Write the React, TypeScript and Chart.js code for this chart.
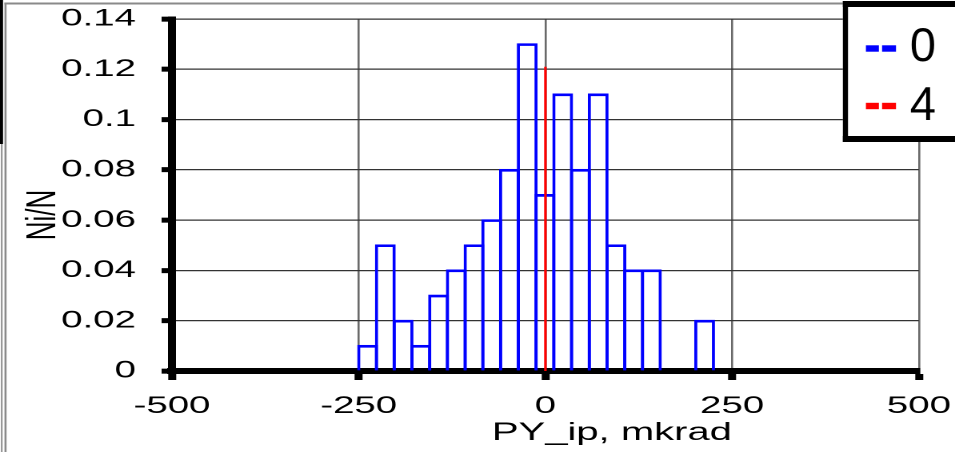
import React, { useEffect, useRef } from 'react';
import { Chart, registerables } from 'chart.js';

Chart.register(...registerables);

// ---- data ----
const binCenters = [
  -238.125, -214.375, -190.625, -166.875, -143.125, -119.375, -95.625, -71.875, -48.125, -24.375,
  -0.625, 23.125, 46.875, 70.625, 94.375, 118.125, 141.875, 165.625, 189.375, 213.125,
];
const series0 = [
  0.01, 0.05, 0.02, 0.01, 0.03, 0.04, 0.05, 0.06, 0.08, 0.13,
  0.07, 0.11, 0.08, 0.11, 0.05, 0.04, 0.04, 0, 0, 0.02,
];
const series4X = [0, 0];
const series4Y = [0, 0.121];
const xTickValues = [-500, -250, 0, 250, 500];
const xTickLabels = ['-500', '-250', '0', '250', '500'];
const yTickLabels = ['0', '0.02', '0.04', '0.06', '0.08', '0.1', '0.12', '0.14'];
const legendLabels = ['0', '4'];
const seriesColors = ['#0000ff', '#ff0000'];
const xTitle = 'PY_ip, mkrad';
const yTitle = 'Ni/N';

// ---- layout (inner canvas is stretched horizontally to match the reference) ----
const W = 597;
const H = 452;
const OUT_W = 955;
const S = OUT_W / W;
const FONT = "'Liberation Sans', Arial, Helvetica, sans-serif";

export default function App() {
  const ref = useRef<HTMLCanvasElement>(null);

  useEffect(() => {
    document.body.style.margin = '0';
    const canvas = ref.current as HTMLCanvasElement;

    const decor = {
      id: 'decor',
      beforeDraw(chart: any) {
        const ctx = chart.ctx as CanvasRenderingContext2D;
        ctx.save();
        ctx.fillStyle = '#ffffff';
        ctx.fillRect(0, 0, W, H);
        // frame remnants at the left/top edge
        ctx.fillStyle = '#8a8a8a';
        ctx.fillRect(0.6, 0, 1.0, H);
        ctx.fillRect(2.8, 2.5, 1.3, H);
        ctx.fillRect(2.8, 2.5, W, 2);
        ctx.fillStyle = '#000000';
        ctx.fillRect(0, 0, 1.9, 144);
        ctx.restore();
      },
      afterDraw(chart: any) {
        const ctx = chart.ctx as CanvasRenderingContext2D;
        ctx.save();
        // axis titles
        ctx.fillStyle = '#000000';
        ctx.font = `25px ${FONT}`;
        ctx.textAlign = 'center';
        ctx.textBaseline = 'alphabetic';
        ctx.fillText(xTitle, 382.5, 440);
        ctx.save();
        ctx.translate(34.4, 215);
        ctx.rotate(-Math.PI / 2);
        ctx.font = `26px ${FONT}`;
        ctx.fillText(yTitle, 0, 0);
        ctx.restore();

        // legend box
        const lx = 526.9;
        ctx.fillStyle = '#ffffff';
        ctx.fillRect(lx, 1, W - lx, 141);
        ctx.fillStyle = '#000000';
        ctx.fillRect(lx, 1, W - lx, 6);
        ctx.fillRect(lx, 136, W - lx, 6);
        ctx.fillRect(lx, 1, 3.2, 141);

        const rows = [48.5, 106];
        const bases = [61, 120];
        for (let i = 0; i < legendLabels.length; i++) {
          ctx.fillStyle = seriesColors[i];
          ctx.fillRect(541.3, rows[i] - 3.2, 8.1, 6.4);
          ctx.fillRect(551.4, rows[i] - 3.2, 8.7, 6.4);
          ctx.save();
          ctx.translate(568.8, bases[i]);
          ctx.scale(1 / S, 1);
          ctx.fillStyle = '#000000';
          ctx.font = `47px ${FONT}`;
          ctx.textAlign = 'left';
          ctx.textBaseline = 'alphabetic';
          ctx.fillText(legendLabels[i], 0, 0);
          ctx.restore();
        }
        ctx.restore();
      },
    };

    const chart = new Chart(canvas, {
      type: 'bar',
      data: {
        datasets: [
          {
            type: 'line',
            label: legendLabels[1],
            data: series4X.map((x, i) => ({ x, y: series4Y[i] })),
            borderColor: seriesColors[1],
            backgroundColor: seriesColors[1],
            borderWidth: 1.6,
            pointRadius: 0,
            fill: false,
            order: 0,
          } as any,
          {
            type: 'bar',
            label: legendLabels[0],
            data: binCenters.map((x, i) => ({ x, y: series0[i] })),
            backgroundColor: 'rgba(0,0,0,0)',
            borderColor: seriesColors[0],
            borderWidth: { top: 0.8, left: 0.01, right: 0.01, bottom: 0 },
            borderSkipped: 'start',
            inflateAmount: 0.95,
            barPercentage: 1,
            categoryPercentage: 1,
            order: 1,
          } as any,
        ],
      },
      options: {
        animation: false,
        responsive: false,
        devicePixelRatio: 2,
        layout: { padding: { top: 19, right: W - 574.4, left: 0, bottom: 0 } },
        plugins: {
          legend: { display: false },
          tooltip: { enabled: false },
          title: { display: false },
        },
        scales: {
          x: {
            type: 'linear',
            position: 'bottom',
            min: -500,
            max: 500,
            offset: false,
            afterFit: (s: any) => {
              s.height = H - 371;
              s.paddingLeft = 0;
              s.paddingRight = 0;
            },
            afterBuildTicks: (s: any) => {
              s.ticks = xTickValues.map((v) => ({ value: v }));
            },
            ticks: {
              autoSkip: false,
              maxRotation: 0,
              minRotation: 0,
              color: '#000000',
              font: { family: FONT, size: 24 },
              padding: 12,
              callback: (v: any) => {
                const i = xTickValues.indexOf(Number(v));
                return i >= 0 ? xTickLabels[i] : '';
              },
            },
            grid: {
              color: '#6a6a6a',
              lineWidth: 1.3,
              offset: false,
              drawTicks: true,
              tickLength: 9,
              tickWidth: 5,
              tickColor: '#000000',
            },
            border: { color: '#000000', width: 6 },
          } as any,
          y: {
            type: 'linear',
            min: 0,
            max: 0.14,
            afterFit: (s: any) => {
              s.width = 107.5;
              s.paddingTop = 0;
              s.paddingBottom = 0;
            },
            ticks: {
              stepSize: 0.02,
              color: '#000000',
              font: { family: FONT, size: 24 },
              padding: 16,
              callback: (v: any) => yTickLabels[Math.round(Number(v) / 0.02)] ?? '',
            },
            grid: {
              color: '#333333',
              lineWidth: 1.3,
              drawTicks: true,
              tickLength: 6.5,
              tickWidth: 5,
              tickColor: '#000000',
            },
            border: { color: '#000000', width: 5 },
          } as any,
        },
      },
      plugins: [decor],
    } as any);

    return () => chart.destroy();
  }, []);

  return (
    <div style={{ position: 'absolute', left: 0, top: 0, width: OUT_W, height: H, overflow: 'hidden', background: '#fff' }}>
      <div style={{ width: W, height: H, transform: `scaleX(${S})`, transformOrigin: '0 0' }}>
        <canvas ref={ref} width={W} height={H} style={{ display: 'block', width: `${W}px`, height: `${H}px` }} />
      </div>
    </div>
  );
}
